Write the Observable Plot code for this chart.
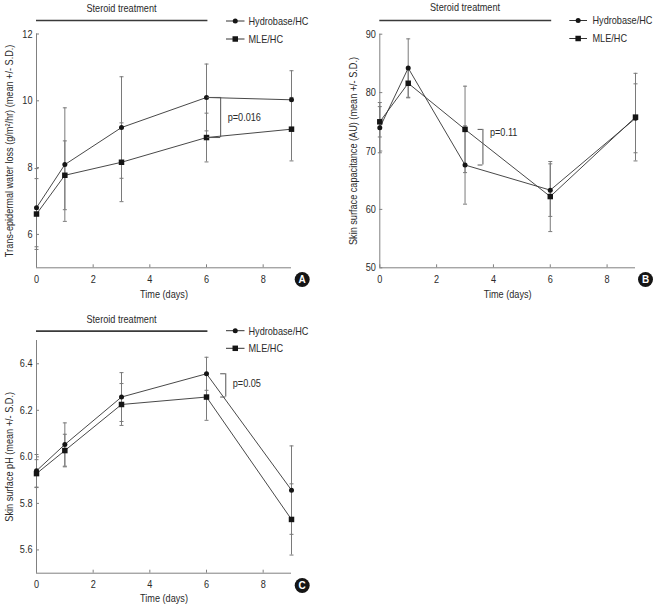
<!DOCTYPE html>
<html><head><meta charset="utf-8">
<script src="https://cdn.jsdelivr.net/npm/d3@7"></script>
<script src="https://cdn.jsdelivr.net/npm/@observablehq/plot@0.6"></script>
<style>
body{margin:0;background:#fff;}
#wrap{position:relative;width:657px;height:607px;overflow:hidden;font-family:"Liberation Sans",Arial,sans-serif;}
.panel{position:absolute;}
</style></head><body><div id="wrap"></div>
<script>
const FONT = '"Liberation Sans",Arial,sans-serif';
const SQUEEZE = 0.83; // horizontal condensing of text to mimic a condensed face
const days = [0, 1, 3, 6, 9];
const seriesNames = ["Hydrobase/HC", "MLE/HC"];
const xTicks = [0, 2, 4, 6, 8];
const headerText = "Steroid treatment";
const xLabel = "Time (days)";

// Panel A: TEWL
const tewlHydro   = [6.80, 8.09, 9.20, 10.10, 10.03];
const tewlHydroSD = [1.17, 1.70, 1.52, 1.00, 0.87];
const tewlMLE     = [6.61, 7.77, 8.16, 8.90, 9.15];
const tewlMLESD   = [1.06, 1.03, 1.18, 0.73, 0.95];
const tewlTicks   = [6, 8, 10, 12];

// Panel B: capacitance
const capHydro   = [74.0, 84.2, 67.6, 63.3, 75.6];
const capHydroSD = [4.3, 5.0, 6.7, 4.5, 5.9];
const capMLE     = [75.0, 81.6, 73.7, 62.2, 75.8];
const capMLESD   = [2.6, 2.5, 7.4, 6.0, 7.5];
const capTicks   = [50, 60, 70, 80, 90];

// Panel C: pH
const phHydro   = [5.94, 6.053, 6.257, 6.357, 5.857];
const phHydroSD = [0.07, 0.093, 0.105, 0.071, 0.19];
const phMLE     = [5.928, 6.027, 6.225, 6.257, 5.731];
const phMLESD   = [0.06, 0.07, 0.09, 0.10, 0.153];
const phTicks   = [5.6, 5.8, 6.0, 6.2, 6.4];

const pLabels = ["p=0.016", "p=0.11", "p=0.05"];
const bracketDays = [6, 3, 6];

const AXIS = "#808080", ERR = "#7a7a7a", LINE = "#333", TXT = "#2a2a2a", MARK = "#151515";

const capSymbol = {draw(ctx, size) { const w = Math.sqrt(size / Math.PI); ctx.moveTo(-w, 0); ctx.lineTo(w, 0); }};

function rows(hydro, hydroSD, mle, mleSD) {
  const r = [];
  days.forEach((d, i) => r.push({day: d, series: seriesNames[0], value: hydro[i], sd: hydroSD[i]}));
  days.forEach((d, i) => r.push({day: d, series: seriesNames[1], value: mle[i], sd: mleSD[i]}));
  return r;
}

function condense(root, s) {
  root.querySelectorAll("text").forEach(t => {
    if (t.classList.contains("nosq") || (t.parentNode && t.parentNode.classList && t.parentNode.classList.contains("letter"))) return;
    const len = t.getComputedTextLength();
    if (len > 0) {
      t.setAttribute("textLength", (len * s).toFixed(2));
      t.setAttribute("lengthAdjust", "spacingAndGlyphs");
    }
  });
}

function panel(cfg) {
  const data = rows(cfg.hydro, cfg.hydroSD, cfg.mle, cfg.mleSD);
  const caps = data.flatMap(d => [{day: d.day, y: d.value - d.sd}, {day: d.day, y: d.value + d.sd}]);
  const bi = days.indexOf(cfg.bDay);
  const bTop = cfg.hydro[bi], bBot = cfg.mle[bi];
  const yMax = cfg.yDomain[1], yMin = cfg.yDomain[0];
  const plot = Plot.plot({
    width: cfg.width, height: cfg.height,
    marginLeft: cfg.ml, marginRight: cfg.mr, marginTop: cfg.mt, marginBottom: cfg.mb,
    x: {domain: [0, 9], label: null},
    y: {domain: cfg.yDomain, label: null},
    style: {fontFamily: FONT, fontSize: "11px", color: TXT, background: "transparent", overflow: "visible"},
    marks: [
      Plot.ruleX([0], {stroke: AXIS}),
      Plot.ruleY([yMin], {stroke: AXIS}),
      Plot.axisX({ticks: xTicks, tickSize: 3, dy: -3, tickFormat: () => "", label: null, stroke: AXIS}),
      Plot.axisX({ticks: xTicks, tickSize: 0, tickPadding: 7, label: null, fill: TXT}),
      Plot.axisY({ticks: cfg.yTicks, tickSize: 3, dx: 3, tickFormat: () => "", label: null, stroke: AXIS}),
      Plot.axisY({ticks: cfg.yTicks, tickSize: 0, tickPadding: 4, tickFormat: cfg.yFormat, label: null, fill: TXT}),
      Plot.text([cfg.ylabel], {frameAnchor: "left", rotate: -90, dx: cfg.ylDx, textAnchor: "middle", lineAnchor: "middle", fill: TXT}),
      Plot.text([xLabel], {frameAnchor: "bottom", dy: cfg.xlDy, textAnchor: "middle", lineAnchor: "middle", fill: TXT}),
      // header
      Plot.ruleY([yMax], {x1: 0, x2: 6.05, dy: cfg.hLineDy, stroke: "#3a3a3a", strokeWidth: 1.7}),
      Plot.text([headerText], {x: 3, y: yMax, dy: cfg.hTextDy, fill: TXT}),
      // error bars
      Plot.ruleX(data, {x: "day", y1: d => d.value - d.sd, y2: d => d.value + d.sd, stroke: ERR}),
      Plot.dot(caps, {x: "day", y: "y", symbol: capSymbol, r: 2, stroke: ERR, fill: "none", strokeWidth: 1}),
      // lines
      Plot.line(data, {x: "day", y: "value", z: "series", stroke: LINE, strokeWidth: 0.9}),
      Plot.dot(data.filter(d => d.series === seriesNames[0]), {x: "day", y: "value", symbol: "circle", r: 2.5, fill: MARK}),
      Plot.dot(data.filter(d => d.series === seriesNames[1]), {x: "day", y: "value", symbol: "square", r: 3.1, fill: MARK}),
      // bracket
      Plot.ruleY([bTop, bBot], {x1: cfg.bx1, x2: cfg.bx2, stroke: "#555"}),
      Plot.ruleX([cfg.bx2], {y1: bTop, y2: bBot, stroke: "#555"}),
      Plot.text([cfg.pLabel], {x: cfg.bx2, y: (bTop + bBot) / 2 + cfg.pShift, dx: cfg.pDx, textAnchor: "start", fill: TXT}),
      // panel letter
      Plot.dot([cfg.letter], {frameAnchor: "bottom-right", dx: cfg.lDx, dy: cfg.lDy, r: 7.5, fill: MARK}),
      Plot.text([cfg.letter], {frameAnchor: "bottom-right", dx: cfg.lDx, dy: cfg.lDy, textAnchor: "middle", lineAnchor: "middle", fill: "white", fontWeight: "bold", fontSize: 10, className: "letter"})
    ]
  });
  const div = document.createElement("div");
  div.className = "panel";
  div.style.left = cfg.left + "px";
  div.style.top = cfg.top + "px";
  div.appendChild(plot);
  document.getElementById("wrap").appendChild(div);
  condense(plot, SQUEEZE);
}

panel({left: 0, top: 0, width: 330, height: 300, ml: 36, mr: 39, mt: 33.5, mb: 32.7,
  yDomain: [5, 12], yTicks: tewlTicks, yFormat: d3.format("d"),
  hydro: tewlHydro, hydroSD: tewlHydroSD, mle: tewlMLE, mleSD: tewlMLESD,
  ylabel: "Trans-epidermal water loss (g/m²/hr) (mean +/- S.D.)", ylDx: -27.5, xlDy: 26.5,
  hLineDy: -13.5, hTextDy: -26, bDay: bracketDays[0], bx1: 6.03, bx2: 6.5, pLabel: pLabels[0], pShift: 0, pDx: 7,
  letter: "A", lDx: 10.7, lDy: 11.7});

panel({left: 330, top: 0, width: 327, height: 300, ml: 49.3, mr: 22, mt: 33.7, mb: 32.7,
  yDomain: [50, 90], yTicks: capTicks, yFormat: d3.format("d"),
  hydro: capHydro, hydroSD: capHydroSD, mle: capMLE, mleSD: capMLESD,
  ylabel: "Skin surface capacitance (AU) (mean +/- S.D.)", ylDx: -26.6, xlDy: 26.5,
  hLineDy: -13.7, hTextDy: -26.4, bDay: bracketDays[1], bx1: 3.46, bx2: 3.63, pLabel: pLabels[1], pShift: 2.5, pDx: 7,
  letter: "B", lDx: 10, lDy: 11.7});

panel({left: 0, top: 300, width: 330, height: 307, ml: 36, mr: 39, mt: 40, mb: 34.3,
  yDomain: [5.5, 6.5], yTicks: phTicks, yFormat: d3.format(".1f"),
  hydro: phHydro, hydroSD: phHydroSD, mle: phMLE, mleSD: phMLESD,
  ylabel: "Skin surface pH (mean +/- S.D.)", ylDx: -27.5, xlDy: 25.5,
  hLineDy: -9.3, hTextDy: -21, bDay: bracketDays[2], bx1: 6.5, bx2: 6.68, pLabel: pLabels[2], pShift: 0.01, pDx: 7,
  letter: "C", lDx: 10.7, lDy: 12.3});

// Legends (overlay)
const legendPos = [
  {x1: 226, x2: 244.5, tx: 248.5, y: [21, 39]},
  {x1: 569.3, x2: 587, tx: 592.5, y: [20.5, 38.5]},
  {x1: 226, x2: 244.5, tx: 248.5, y: [330.7, 348.3]}
];
const svgNode = d3.select("#wrap").append("svg")
  .attr("width", 657).attr("height", 607)
  .style("position", "absolute").style("left", 0).style("top", 0)
  .style("font-family", FONT).style("font-size", "11px");
legendPos.forEach(p => {
  seriesNames.forEach((name, i) => {
    const y = p.y[i];
    svgNode.append("line").attr("x1", p.x1).attr("x2", p.x2).attr("y1", y).attr("y2", y).attr("stroke", LINE).attr("stroke-width", 1);
    const sym = i === 0 ? d3.symbol(d3.symbolCircle, Math.PI * 2.5 * 2.5) : d3.symbol(d3.symbolSquare, Math.PI * 3.1 * 3.1);
    svgNode.append("path").attr("d", sym()).attr("transform", `translate(${(p.x1 + p.x2) / 2},${y})`).attr("fill", MARK);
    svgNode.append("text").attr("x", p.tx).attr("y", y).attr("dy", "0.35em").attr("fill", TXT).text(name);
  });
});
condense(svgNode.node(), SQUEEZE);
</script>
</body></html>
